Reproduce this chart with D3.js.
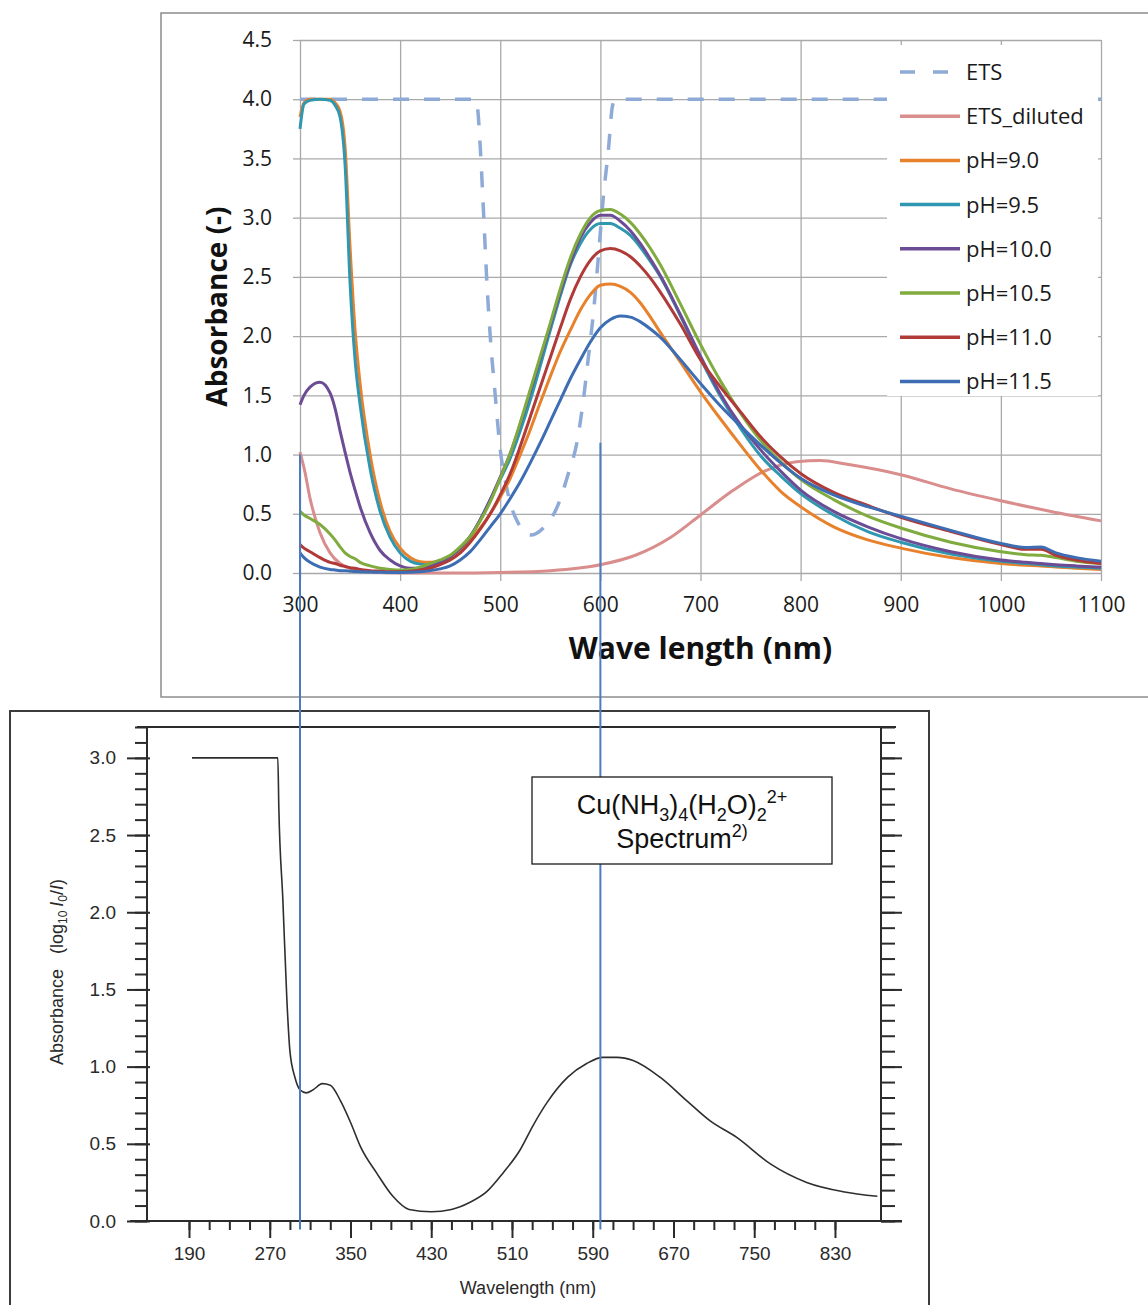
<!DOCTYPE html>
<html>
<head>
<meta charset="utf-8">
<script src="https://cdn.jsdelivr.net/npm/d3@7"></script>
<style>
  body { margin: 0; background: #fff; }
</style>
</head>
<body>
<svg id="chart" width="1148" height="1305"></svg>
<script>
// ---------- upper chart: measured spectra ----------
var phWl = [300,304,310,320,330,335,340,345,350,355,360,370,380,390,400,410,420,430,440,450,
            460,470,480,490,500,510,520,530,540,550,560,570,580,590,600,610,620,630,640,650,
            660,680,700,720,740,760,780,800,833,867,900,950,1000,1025,1040,1055,1075,1100];
var ph90  = [3.85,3.97,4.0,4.0,4.0,3.97,3.9,3.6,2.75,2.05,1.6,1.0,0.6,0.35,0.21,0.13,0.095,0.09,0.1,0.14,
             0.2,0.28,0.38,0.5,0.64,0.8,1.0,1.21,1.44,1.66,1.87,2.05,2.22,2.35,2.43,2.44,2.42,2.37,2.28,2.16,
             2.03,1.78,1.53,1.3,1.08,0.87,0.69,0.56,0.39,0.28,0.21,0.13,0.08,0.065,0.06,0.05,0.04,0.03];
var ph95  = [3.75,3.96,3.99,4.0,3.99,3.95,3.85,3.45,2.45,1.8,1.42,0.88,0.52,0.3,0.17,0.1,0.075,0.07,0.09,0.14,
             0.21,0.31,0.45,0.62,0.79,0.97,1.2,1.46,1.75,2.05,2.34,2.6,2.78,2.9,2.95,2.95,2.91,2.85,2.75,2.63,
             2.5,2.17,1.81,1.49,1.22,0.99,0.82,0.67,0.49,0.35,0.26,0.16,0.1,0.08,0.07,0.06,0.05,0.04];
var ph100 = [1.42,1.5,1.57,1.61,1.52,1.39,1.2,1.02,0.85,0.7,0.56,0.34,0.19,0.11,0.06,0.04,0.04,0.06,0.09,0.14,
             0.21,0.31,0.45,0.62,0.81,1.01,1.26,1.53,1.81,2.09,2.37,2.62,2.83,2.96,3.02,3.02,2.97,2.89,2.78,2.65,
             2.51,2.18,1.83,1.51,1.25,1.04,0.86,0.7,0.52,0.39,0.29,0.18,0.11,0.09,0.08,0.07,0.06,0.05];
var ph105 = [0.52,0.49,0.46,0.41,0.33,0.28,0.22,0.17,0.14,0.12,0.09,0.06,0.04,0.03,0.025,0.03,0.05,0.08,0.11,0.15,
             0.22,0.31,0.44,0.6,0.8,1.01,1.27,1.55,1.83,2.11,2.4,2.66,2.86,3.0,3.06,3.07,3.03,2.96,2.86,2.74,
             2.6,2.27,1.93,1.62,1.35,1.12,0.94,0.79,0.62,0.48,0.38,0.26,0.18,0.155,0.15,0.13,0.1,0.08];
var ph110 = [0.24,0.21,0.18,0.13,0.09,0.08,0.065,0.055,0.045,0.04,0.03,0.02,0.015,0.01,0.01,0.015,0.025,0.04,0.07,0.11,
             0.17,0.26,0.37,0.5,0.66,0.84,1.07,1.32,1.57,1.82,2.07,2.31,2.5,2.64,2.72,2.74,2.72,2.67,2.59,2.49,
             2.37,2.1,1.8,1.57,1.36,1.15,0.98,0.84,0.68,0.57,0.47,0.35,0.24,0.2,0.2,0.15,0.11,0.08];
var ph115 = [0.17,0.13,0.09,0.05,0.03,0.025,0.02,0.018,0.015,0.012,0.01,0.008,0.006,0.005,0.005,0.006,0.01,0.02,0.035,0.06,
             0.11,0.18,0.28,0.39,0.5,0.63,0.77,0.93,1.1,1.28,1.46,1.64,1.8,1.95,2.07,2.14,2.17,2.16,2.12,2.06,
             1.99,1.8,1.6,1.41,1.24,1.08,0.93,0.8,0.66,0.56,0.48,0.36,0.25,0.215,0.22,0.17,0.13,0.1];

var etsWl  = [300,475,477,480,483,487,490,495,500,505,510,518,530,543,557,568,577,583,588,593,598,603,608,612,615,1100];
var etsAbs = [4.0,4.0,3.95,3.6,3.1,2.4,2.0,1.5,1.04,0.78,0.59,0.42,0.32,0.38,0.56,0.84,1.12,1.46,1.82,2.19,2.67,3.18,3.57,3.94,4.0,4.0];

var dilWl  = [300,305,310,315,320,330,340,350,370,400,450,500,550,600,635,670,700,733,764,796,820,845,900,950,1000,1050,1100];
var dilAbs = [1.02,0.85,0.63,0.47,0.34,0.17,0.08,0.04,0.01,0,0,0.005,0.02,0.07,0.15,0.3,0.49,0.7,0.86,0.94,0.95,0.92,0.83,0.71,0.61,0.52,0.44];

var seriesNames  = ["ETS","ETS_diluted","pH=9.0","pH=9.5","pH=10.0","pH=10.5","pH=11.0","pH=11.5"];
var seriesColors = ["#8eaad6","#d98d8c","#e8812c","#2f97b0","#6c4c95","#80ab3f","#b03a38","#3d6db3"];

var topXTicks = [300,400,500,600,700,800,900,1000,1100];
var topYTicks = [0,0.5,1,1.5,2,2.5,3,3.5,4,4.5];

// ---------- lower chart: reference Cu(NH3)4(H2O)2 2+ spectrum ----------
var cuWl  = [193,278,279,283,287,290,295,300,306,313,322,330,340,350,360,376,392,408,430,450,
             468,485,501,518,531,545,565,584,600,614,630,657,683,706,733,766,802,838,872];
var cuAbs = [3.0,3.0,2.68,2.08,1.43,1.1,0.93,0.85,0.83,0.85,0.89,0.88,0.78,0.64,0.48,0.31,0.16,0.075,0.06,0.075,
             0.12,0.19,0.31,0.46,0.62,0.77,0.93,1.02,1.06,1.06,1.04,0.93,0.78,0.65,0.54,0.37,0.25,0.19,0.16];

var botXTicks = [190,270,350,430,510,590,670,750,830];
var botYTicks = [0,0.5,1,1.5,2,2.5,3];

var boxLine1 = [["Cu(NH",0],["3",1],[")",0],["4",1],["(H",0],["2",1],["O)",0],["2",1],["2+",2]];
var boxLine2 = [["Spectrum",0],["2)",2]];

var svg = d3.select("#chart");
var topFont = "'Open Sans', sans-serif";
var botFont = "'Liberation Sans', Arial, sans-serif";

function cleanAxis(g, color, w) {
  g.select(".domain").remove();
  g.selectAll(".tick line").attr("stroke", color).attr("stroke-width", w);
}

// ================= upper chart =================
var x = d3.scaleLinear().domain([300, 1100]).range([300, 1101]);
var y = d3.scaleLinear().domain([0, 4.5]).range([573, 40]);
var gridColor = "#a9a9a9";

svg.append("rect")
  .attr("x", 161).attr("y", 13).attr("width", 1010).attr("height", 684)
  .attr("fill", "#fff").attr("stroke", "#8c8c8c").attr("stroke-width", 1.5);

// gridlines
svg.append("g").attr("transform", "translate(" + x.range()[0] + ",0)")
  .call(d3.axisLeft(y).tickValues(topYTicks).tickSize(-(x.range()[1] - x.range()[0])).tickFormat(""))
  .call(cleanAxis, gridColor, 1.3);
svg.append("g").attr("transform", "translate(0," + y.range()[0] + ")")
  .call(d3.axisBottom(x).tickValues(topXTicks).tickSize(-(y.range()[0] - y.range()[1])).tickFormat(""))
  .call(cleanAxis, gridColor, 1.3);

// ticks + labels
var yAx = svg.append("g").attr("transform", "translate(" + x.range()[0] + ",0)")
  .call(d3.axisLeft(y).tickValues(topYTicks).tickSize(7).tickPadding(21).tickFormat(d3.format(".1f")))
  .call(cleanAxis, gridColor, 1.3);
var xAx = svg.append("g").attr("transform", "translate(0," + y.range()[0] + ")")
  .call(d3.axisBottom(x).tickValues(topXTicks).tickSize(8).tickPadding(16).tickFormat(d3.format("d")))
  .call(cleanAxis, gridColor, 1.3);
d3.selectAll([yAx.node(), xAx.node()]).selectAll("text")
  .style("font-family", topFont).style("font-size", "21px").attr("fill", "#1a1a1a");

svg.append("text")
  .attr("transform", "translate(227," + ((y.range()[0] + y.range()[1]) / 2) + ") rotate(-90)")
  .attr("text-anchor", "middle")
  .style("font-family", topFont).style("font-size", "28px").style("font-weight", "bold")
  .attr("fill", "#111").text("Absorbance (-)");
svg.append("text")
  .attr("x", (x.range()[0] + x.range()[1]) / 2).attr("y", 659)
  .attr("text-anchor", "middle")
  .style("font-family", topFont).style("font-size", "30px").style("font-weight", "bold")
  .attr("fill", "#111").text("Wave length (nm)");

// curves
var line = d3.line().x(function(d) { return x(d[0]); }).y(function(d) { return y(d[1]); })
  .curve(d3.curveMonotoneX);
var phSeries = [ph90, ph95, ph100, ph105, ph110, ph115];
var curves = [d3.zip(etsWl, etsAbs), d3.zip(dilWl, dilAbs)];
phSeries.forEach(function(s) { curves.push(d3.zip(phWl, s)); });

svg.append("g").selectAll("path")
  .data(curves)
  .join("path")
  .attr("d", line)
  .attr("fill", "none")
  .attr("stroke", function(d, i) { return seriesColors[i]; })
  .attr("stroke-width", function(d, i) { return i === 0 ? 3.5 : 3; })
  .attr("stroke-dasharray", function(d, i) { return i === 0 ? "16,15" : null; })
  .attr("stroke-linejoin", "round");

// legend (opaque box over the plot)
svg.append("rect").attr("x", 887).attr("y", 45).attr("width", 211).attr("height", 351).attr("fill", "#fff");
var leg = svg.append("g").selectAll("g")
  .data(seriesNames)
  .join("g")
  .attr("transform", function(d, i) { return "translate(900," + (72 + i * 44.2) + ")"; });
leg.append("line")
  .attr("x1", 0).attr("x2", 60).attr("y1", 0).attr("y2", 0)
  .attr("stroke", function(d, i) { return seriesColors[i]; })
  .attr("stroke-width", 3.5)
  .attr("stroke-dasharray", function(d, i) { return i === 0 ? "15,18" : null; });
leg.append("text")
  .attr("x", 66).attr("dy", "0.36em")
  .style("font-family", topFont).style("font-size", "22px").attr("fill", "#1a1a1a")
  .text(function(d) { return d; });

// ================= lower chart =================
var bx = d3.scaleLinear().domain([148.4, 875.6]).range([147, 881]);
var by = d3.scaleLinear().domain([0, 3.2]).range([1221, 727]);
var axColor = "#2b2b2b";

svg.append("rect")
  .attr("x", 10).attr("y", 711).attr("width", 919).attr("height", 640)
  .attr("fill", "#fff").attr("stroke", "#3c3c3c").attr("stroke-width", 2);

// frame lines of the plot
var fr = svg.append("g").attr("stroke", axColor).attr("stroke-width", 2);
fr.append("line").attr("x1", 130).attr("x2", 902).attr("y1", by(0)).attr("y2", by(0));
fr.append("line").attr("x1", 137).attr("x2", 896).attr("y1", by(3.2)).attr("y2", by(3.2));
fr.append("line").attr("x1", bx.range()[0]).attr("x2", bx.range()[0]).attr("y1", by(3.2)).attr("y2", by(0));
fr.append("line").attr("x1", bx.range()[1]).attr("x2", bx.range()[1]).attr("y1", by(3.2)).attr("y2", by(0));

var minorY = d3.range(0, 33).map(function(i) { return i / 10; });
var minorX = d3.range(190, 831, 20);

svg.append("g").attr("transform", "translate(" + bx.range()[0] + ",0)")
  .call(d3.axisLeft(by).tickValues(minorY).tickSize(12).tickFormat(""))
  .call(cleanAxis, axColor, 2);
var bY = svg.append("g").attr("transform", "translate(" + (bx.range()[0] + 3) + ",0)")
  .call(d3.axisLeft(by).tickValues(botYTicks).tickSize(23).tickPadding(11).tickFormat(d3.format(".1f")))
  .call(cleanAxis, axColor, 2);
svg.append("g").attr("transform", "translate(" + bx.range()[1] + ",0)")
  .call(d3.axisRight(by).tickValues(minorY).tickSize(14).tickFormat(""))
  .call(cleanAxis, axColor, 2);
svg.append("g").attr("transform", "translate(" + bx.range()[1] + ",0)")
  .call(d3.axisRight(by).tickValues(botYTicks).tickSize(21).tickFormat(""))
  .call(cleanAxis, axColor, 2);
svg.append("g").attr("transform", "translate(0," + by(0) + ")")
  .call(d3.axisBottom(bx).tickValues(minorX).tickSize(9).tickFormat(""))
  .call(cleanAxis, axColor, 2);
var bX = svg.append("g").attr("transform", "translate(0," + by(0) + ")")
  .call(d3.axisBottom(bx).tickValues(botXTicks).tickSize(17).tickPadding(9).tickFormat(d3.format("d")))
  .call(cleanAxis, axColor, 2);
d3.selectAll([bY.node(), bX.node()]).selectAll("text")
  .style("font-family", botFont).style("font-size", "19px").attr("fill", "#2a2a2a");

svg.append("text")
  .attr("x", 528).attr("y", 1294).attr("text-anchor", "middle")
  .style("font-family", botFont).style("font-size", "18px").attr("fill", "#2a2a2a")
  .text("Wavelength (nm)");

var yt = svg.append("text")
  .attr("transform", "translate(63,972) rotate(-90)")
  .attr("text-anchor", "middle")
  .style("font-family", botFont).style("font-size", "18px").attr("fill", "#2a2a2a");
yt.append("tspan").text("Absorbance");
yt.append("tspan").attr("dx", 15).text("(log");
yt.append("tspan").attr("dy", 4).style("font-size", "12px").text("10");
yt.append("tspan").attr("dy", -4).attr("dx", 4).style("font-style", "italic").text("I");
yt.append("tspan").attr("dy", 4).style("font-size", "12px").text("0");
yt.append("tspan").attr("dy", -4).text("/");
yt.append("tspan").style("font-style", "italic").text("I");
yt.append("tspan").text(")");

var cuLine = d3.line().x(function(d) { return bx(d[0]); }).y(function(d) { return by(d[1]); })
  .curve(d3.curveMonotoneX);
svg.append("path")
  .datum(d3.zip(cuWl, cuAbs))
  .attr("d", cuLine)
  .attr("fill", "none").attr("stroke", "#2e2e2e").attr("stroke-width", 1.6);

// ================= connector lines between the charts =================
svg.append("g").attr("stroke", "#4a7cc0").attr("stroke-width", 2)
  .selectAll("line")
  .data([[300, 1.0], [600, 1.1]])
  .join("line")
  .attr("x1", function(d) { return x(d[0]); }).attr("x2", function(d) { return x(d[0]); })
  .attr("y1", function(d) { return y(d[1]); }).attr("y2", by(-0.055));

// ================= annotation box =================
svg.append("rect").attr("x", 532).attr("y", 777).attr("width", 300).attr("height", 87)
  .attr("fill", "#fff").attr("stroke", "#1a1a1a").attr("stroke-width", 1.3);

function richText(parts, yPos) {
  var t = svg.append("text").attr("x", 682).attr("y", yPos).attr("text-anchor", "middle")
    .style("font-family", botFont).style("font-size", "27px").attr("fill", "#111");
  var level = 0;
  parts.forEach(function(p) {
    var shift = p[1] === 1 ? 7 : (p[1] === 2 ? -11 : 0);
    t.append("tspan")
      .attr("dy", shift - level)
      .style("font-size", p[1] === 0 ? "27px" : "18px")
      .text(p[0]);
    level = shift;
  });
}
richText(boxLine1, 814);
richText(boxLine2, 848);
</script>
</body>
</html>
